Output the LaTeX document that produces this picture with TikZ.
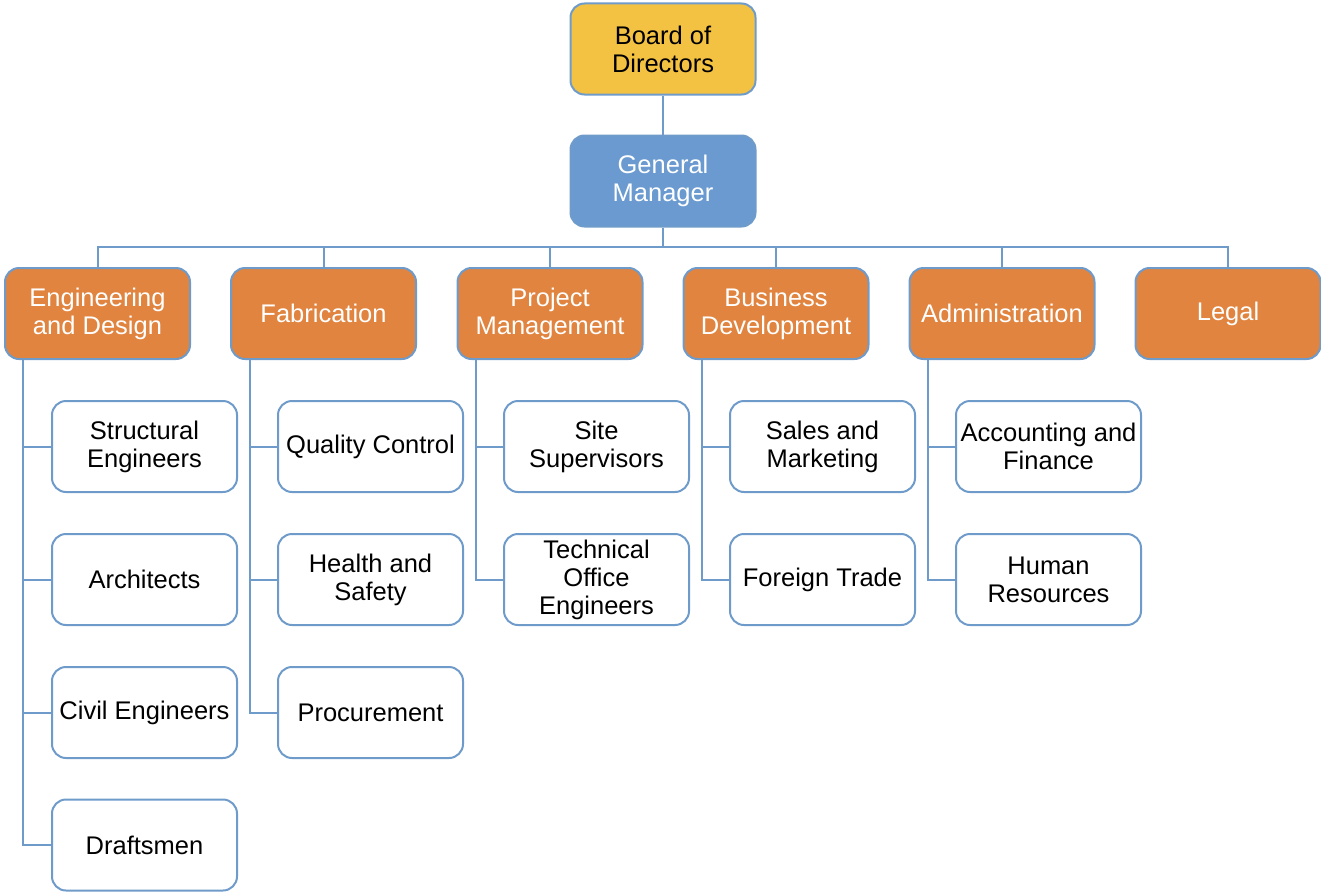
\documentclass[tikz,border=0pt]{standalone}
\usepackage{fontspec}
\setmainfont{Liberation Sans}
\definecolor{edgeblue}{HTML}{6F9BCB}
\definecolor{boardyellow}{HTML}{F4C242}
\definecolor{gmblue}{HTML}{6A9AD0}
\definecolor{deptorange}{HTML}{E0843F}
\begin{document}
\begin{tikzpicture}[x=1pt,y=-1pt,
  box/.style={draw=edgeblue,line width=2pt,rounded corners=14pt,
    minimum width=185pt,minimum height=91pt,align=center,
    font=\fontsize{25.5}{28}\selectfont,inner sep=1pt},
  board/.style={box,fill=boardyellow,text=black},
  gm/.style={box,fill=gmblue,text=white},
  dept/.style={box,fill=deptorange,text=white},
  unit/.style={box,fill=white,text=black},
  link/.style={draw=edgeblue,line width=2pt}]
\useasboundingbox (0,0) rectangle (1321,891);

% top of the hierarchy
\node[board] (bod) at (663,49) {Board of\\Directors};
\node[gm] (gm) at (663,181) {General\\Manager};

% departments
\node[dept] (eng) at (97.5,313.5) {Engineering\\and Design};
\node[dept] (fab) at (323.5,313.5) {Fabrication};
\node[dept] (pm)  at (550,313.5) {Project\\Management};
\node[dept] (bd)  at (776,313.5) {Business\\Development};
\node[dept] (adm) at (1002,313.5) {Administration};
\node[dept] (leg) at (1228,313.5) {Legal};

% units under each department
\node[unit] (se) at (144.5,446.5) {Structural\\Engineers};
\node[unit] (ar) at (144.5,579.5) {Architects};
\node[unit] (ce) at (144.5,712.5) {Civil Engineers};
\node[unit] (dr) at (144.5,845) {Draftsmen};

\node[unit] (qc) at (370.5,446.5) {Quality Control};
\node[unit] (hs) at (370.5,579.5) {Health and\\Safety};
\node[unit] (pr) at (370.5,712.5) {Procurement};

\node[unit] (ss) at (596.5,446.5) {Site\\Supervisors};
\node[unit] (to) at (596.5,579.5) {Technical\\Office\\Engineers};

\node[unit] (sm) at (822.5,446.5) {Sales and\\Marketing};
\node[unit] (ft) at (822.5,579.5) {Foreign Trade};

\node[unit] (af) at (1048.5,446.5) {Accounting and\\Finance};
\node[unit] (hr) at (1048.5,579.5) {Human\\Resources};

% board to manager, manager to the department bus
\coordinate (bus) at (663,247);
\draw[link] (bod.south) -- (gm.north);
\draw[link] (gm.south) -- (bus);
\foreach \d in {eng,fab,pm,bd,adm,leg}
  \draw[link] (bus) -| (\d.north);

% department spines down to their units
\foreach \d/\x/\units in {eng/23/{se,ar,ce,dr},fab/250/{qc,hs,pr},pm/476/{ss,to},bd/702/{sm,ft},adm/928/{af,hr}}{
  \foreach \u in \units
    \draw[link] (\x,360) -- (\x,0 |- \u.west) -- (\u.west);
}
\end{tikzpicture}
\end{document}
